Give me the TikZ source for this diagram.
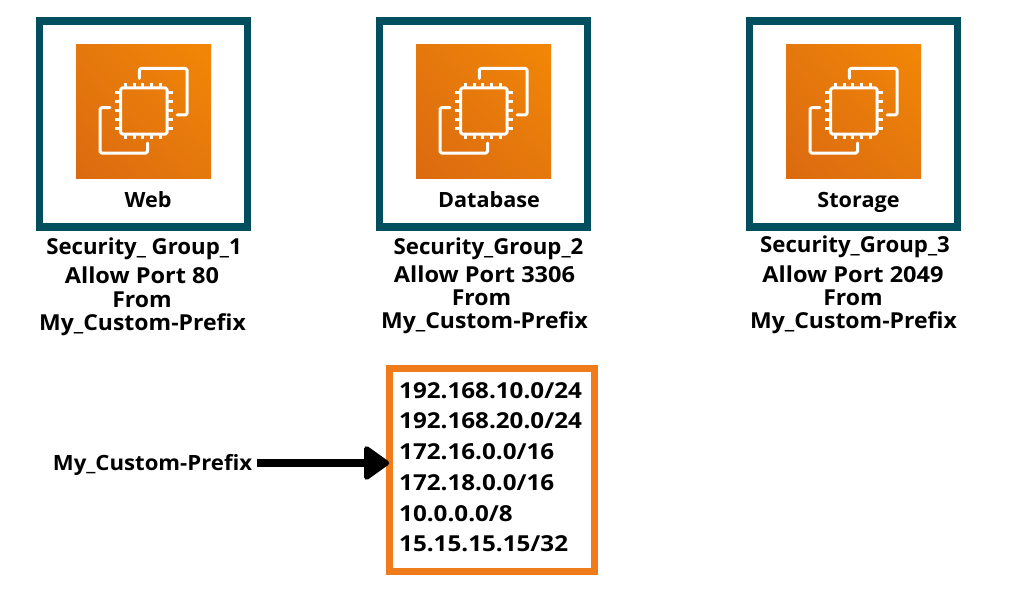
\documentclass[tikz,border=0pt]{standalone}
\usepackage{fontspec}
\setmainfont{Open Sans}
\newfontfamily\ftitle{Open Sans}[FakeStretch=1.03]
\newfontfamily\fsec{Open Sans}[FakeStretch=1.01]
\newfontfamily\fallow{Open Sans}[FakeStretch=1.07]
\newfontfamily\fpref{Open Sans}[FakeStretch=1.045]
\newfontfamily\fsrc{Open Sans}[FakeStretch=1.055]
\newfontfamily\fip{Open Sans}[FakeStretch=1.10]
\usetikzlibrary{arrows.meta,shadings}
\definecolor{teal}{HTML}{004E5E}
\definecolor{boxor}{HTML}{EF7B1B}
\definecolor{ico1}{HTML}{DB6A10}
\definecolor{ico2}{HTML}{F28706}
\definecolor{ico3}{HTML}{E5780D}
\tikzset{
  x=1pt,y=-1pt,
  frame/.style={draw=teal,line width=7.5pt,fill=white,minimum width=208pt,minimum height=206pt,inner sep=0pt,outer sep=0pt},
  ipbox/.style={draw=boxor,line width=7pt,fill=white,minimum width=205pt,minimum height=203pt,inner sep=0pt,outer sep=0pt},
  lbl/.style={text=black,inner sep=0pt,anchor=base,yshift=-0.7pt},
  titlelbl/.style={lbl,font=\fontsize{21}{21}\selectfont\ftitle\bfseries},
  seclbl/.style={lbl,font=\fontsize{22}{22}\selectfont\fsec\bfseries},
  allowlbl/.style={lbl,font=\fontsize{22}{22}\selectfont\fallow\bfseries},
  preflbl/.style={lbl,font=\fontsize{22}{22}\selectfont\fpref\bfseries},
  srclbl/.style={lbl,font=\fontsize{21}{21}\selectfont\fsrc\bfseries},
  iplbl/.style={font=\fontsize{22}{22}\selectfont\fip\bfseries,text=black,inner sep=0pt,anchor=base west,yshift=-0.7pt},
  icoline/.style={draw=white,line width=3pt,line join=round,line cap=round,rounded corners=1.5pt},
  pins/.style={draw=white,line width=3pt},
  flow/.style={line width=8pt,draw=black,-{Triangle[round,length=27pt,width=37pt,line width=5pt]}},
  pics/ec2/.style={code={
    \shade[shading=bilinear interpolation,upper right=ico2,lower left=ico1,upper left=ico3,lower right=ico3] (0,0) rectangle (135,133);
    \draw[icoline] (63.3,33.5) -- (63.3,23.5) -- (111,23.5) -- (111,70) -- (101,70);
    \draw[icoline] (34,62.7) -- (24,62.7) -- (24,108) -- (71.5,108) -- (71.5,98);
    \draw[icoline] (44.7,43) rectangle (91,89);
    \foreach \p in {49.3,58,66.7,75.3,84}{\draw[pins] (\p,38) -- (\p,43);\draw[pins] (\p,89) -- (\p,94);}
    \foreach \p in {48,56.7,66,74.7,83.3}{\draw[pins] (39,\p) -- (44.7,\p);\draw[pins] (91,\p) -- (97,\p);}
  }}
}
\begin{document}
\begin{tikzpicture}
\useasboundingbox (0,0) rectangle (1021,594);
\fill[white] (0,0) rectangle (1021,594);
% frames
\node[frame] (f1) at (143.5,124) {};
\node[frame] (f2) at (483.5,124) {};
\node[frame] (f3) at (853.5,124) {};
\pic at (76,45) {ec2};
\pic at (416,45) {ec2};
\pic at (786,45) {ec2};
\node[titlelbl] (t1) at (148,207) {Web};
\node[titlelbl] (t2) at (489,207) {Database};
\node[titlelbl] (t3) at (858.5,207) {Storage};
% column 1
\node[seclbl] (a1) at (144,254) {Security\_ Group\_1};
\node[allowlbl] (a2) at (142,283) {Allow Port 80};
\node[preflbl] (a3) at (142,307) {From};
\node[preflbl] (a4) at (142.5,330) {My\_Custom-Prefix};
% column 2
\node[seclbl] (b1) at (488.5,254) {Security\_Group\_2};
\node[allowlbl] (b2) at (484.5,282) {Allow Port 3306};
\node[preflbl] (b3) at (481.5,305) {From};
\node[preflbl] (b4) at (484.5,328) {My\_Custom-Prefix};
% column 3
\node[seclbl] (c1) at (855,252) {Security\_Group\_3};
\node[allowlbl] (c2) at (853,282) {Allow Port 2049};
\node[preflbl] (c3) at (853,305) {From};
\node[preflbl] (c4) at (853.5,328) {My\_Custom-Prefix};
% prefix box
\node[ipbox] (box) at (491.7,470.3) {};
\node[iplbl] (i1) at (399,398) {192.168.10.0/24};
\node[iplbl] (i2) at (399,428) {192.168.20.0/24};
\node[iplbl] (i3) at (399,459) {172.16.0.0/16};
\node[iplbl] (i4) at (399,490) {172.18.0.0/16};
\node[iplbl] (i5) at (399,521) {10.0.0.0/8};
\node[iplbl] (i6) at (399,551) {15.15.15.15/32};
\node[srclbl] (pfx) at (152.5,470) {My\_Custom-Prefix};
\coordinate (pfxend) at (257,463);
\draw[flow] (pfxend) -- (box.west |- pfxend);
\end{tikzpicture}
\end{document}
